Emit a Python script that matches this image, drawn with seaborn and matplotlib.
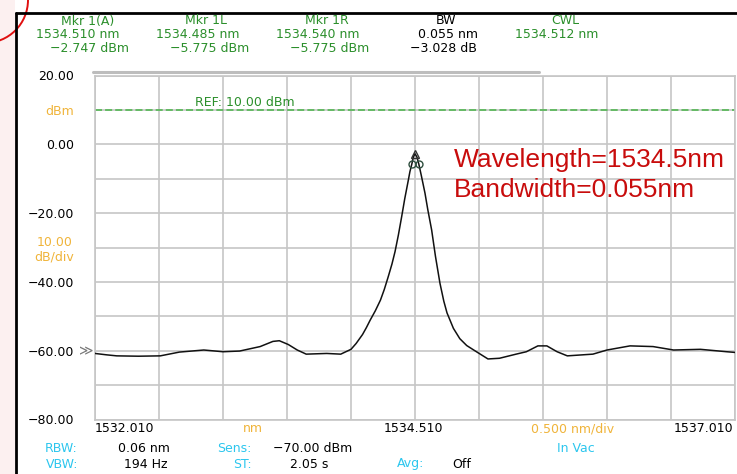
import numpy as np
import pandas as pd
import matplotlib
matplotlib.use("Agg")
import matplotlib.pyplot as plt
from matplotlib.patches import Ellipse, Rectangle
from matplotlib.lines import Line2D
import seaborn as sns

# ---------------- data ----------------
wavelength_nm = [
    1532.010, 1532.10, 1532.18, 1532.35, 1532.52, 1532.67, 1532.86, 1533.01,
    1533.14, 1533.30, 1533.40, 1533.45, 1533.52, 1533.59, 1533.66, 1533.82,
    1533.93, 1534.01, 1534.05, 1534.10, 1534.13, 1534.16, 1534.20, 1534.24,
    1534.27, 1534.30, 1534.33, 1534.354, 1534.38, 1534.406, 1534.43, 1534.458,
    1534.47, 1534.485, 1534.498, 1534.510, 1534.525, 1534.540, 1534.56,
    1534.588, 1534.61, 1534.64, 1534.67, 1534.705, 1534.735, 1534.76,
    1534.81, 1534.86, 1534.914, 1534.99, 1535.08, 1535.17, 1535.30,
    1535.38, 1535.47, 1535.54, 1535.62, 1535.70, 1535.90, 1536.01, 1536.19,
    1536.37, 1536.53, 1536.74, 1536.945, 1537.010,
]
power_dbm = [
    -60.8, -61.2, -61.5, -61.6, -61.5, -60.4, -59.8, -60.3,
    -60.1, -58.8, -57.3, -57.1, -58.2, -59.8, -61.0, -60.8,
    -61.0, -59.6, -57.9, -55.3, -53.3, -51.1, -48.4, -45.3,
    -42.2, -38.6, -34.8, -31.2, -26.4, -21.0, -15.8, -10.4,
    -8.0, -5.775, -3.6, -2.747, -3.7, -5.775, -9.2,
    -14.2, -19.0, -24.9, -32.6, -40.4, -45.6, -49.0,
    -53.5, -56.5, -58.5, -60.3, -62.4, -62.2, -61.0,
    -60.3, -58.6, -58.6, -60.3, -61.5, -61.0, -59.8, -58.6,
    -58.8, -59.8, -59.6, -60.3, -60.5,
]
marker_wl = [1534.510, 1534.485, 1534.540]
marker_db = [-2.747, -5.775, -5.775]
ref_level = 10.0

x_start, x_stop, x_div = 1532.010, 1537.010, 0.5
y_ticks = [20, 10, 0, -10, -20, -30, -40, -50, -60, -70, -80]
y_tick_labels = ["20.00", "dBm", "0.00", "", "\u221220.00", "10.00\ndB/div",
                 "\u221240.00", "", "\u221260.00", "", "\u221280.00"]
x_tick_labels = ["1532.010", "nm", "1534.510", "0.500 nm/div", "1537.010"]

header_titles = ["Mkr 1(A)", "Mkr 1L", "Mkr 1R", "BW", "CWL"]
header_row2 = ["1534.510 nm", "1534.485 nm", "1534.540 nm", "0.055 nm", "1534.512 nm"]
header_row3 = ["\u22122.747 dBm", "\u22125.775 dBm", "\u22125.775 dBm", "\u22123.028 dB"]

annot_lines = ["Wavelength=1534.5nm", "Bandwidth=0.055nm"]

# ---------------- style ----------------
W, H = 737, 474
sns.set_theme(style="white")
plt.rcParams["font.family"] = ["DejaVu Sans"]

GREEN = "#2b8f2b"
ORANGE = "#f0b43a"
CYAN = "#2cc6ee"
GRID = "#c6c6c6"
RED = "#c80c0c"
FS = 9

fig = plt.figure(figsize=(W / 100, H / 100), dpi=100)
fig.patch.set_facecolor("white")

# background decorations (slide remnants)
fig.patches.append(Rectangle((0, 0), 15 / W, 1, transform=fig.transFigure,
                             facecolor="#fcf0f0", edgecolor="none", zorder=0))
fig.patches.append(Ellipse((-15 / W, 1.0), 2 * 43 / W, 2 * 43 / H,
                           transform=fig.transFigure, fill=False,
                           edgecolor="#e01010", lw=1.4, zorder=1))
# black frame
fig.lines.append(Line2D([16 / W, 16 / W], [0, 1 - 13 / H], transform=fig.transFigure,
                        color="black", lw=2.0))
fig.lines.append(Line2D([16 / W, 1], [1 - 13 / H, 1 - 13 / H], transform=fig.transFigure,
                        color="black", lw=2.0))
# gray bar above grid
fig.lines.append(Line2D([93 / W, 539 / W], [1 - 72 / H, 1 - 72 / H], transform=fig.transFigure,
                        color="#bdbdbd", lw=2.2))

ax = fig.add_axes([95 / W, (H - 419.5) / H, 640 / W, 344 / H])
ax.set_facecolor("white")

df = pd.DataFrame({"wl": wavelength_nm, "p": power_dbm})
sns.lineplot(data=df, x="wl", y="p", color="#111111", lw=1.1, ax=ax, zorder=3)

ax.plot(marker_wl[:1], marker_db[:1], marker="^", ms=6, mfc="none", mec="#333333",
        mew=1.0, ls="none", zorder=4)
ax.plot(marker_wl[1:], marker_db[1:], marker="o", ms=5, mfc="none", mec="#2f4f3f",
        mew=1.0, ls="none", zorder=4)

ax.axhline(ref_level, color="#5cb85c", lw=1.3, ls=(0, (3.9, 1.7)), zorder=2)

ax.set_xlim(x_start, x_stop)
ax.set_ylim(-80, 20)
ax.set_xticks([x_start + i * x_div for i in range(11)])
ax.set_xticklabels([])
ax.set_yticks(y_ticks)
ax.set_yticklabels(y_tick_labels)
ax.tick_params(axis="both", length=0)
ax.tick_params(axis="y", pad=15, labelsize=FS, labelcolor="black")
for lab, txt in zip(ax.get_yticklabels(), y_tick_labels):
    if txt in ("dBm", "10.00\ndB/div"):
        lab.set_color(ORANGE)
        lab.set_multialignment("center")
    lab.set_fontfamily("DejaVu Sans")
ax.grid(True, color=GRID, lw=1.2)
for sp in ax.spines.values():
    sp.set_visible(True)
    sp.set_color(GRID)
    sp.set_linewidth(1.2)
ax.set_xlabel("")
ax.set_ylabel("")

ax.annotate("\u226b", xy=(0, -60.3), xycoords=("axes fraction", "data"),
            xytext=(-1, 0), textcoords="offset points", ha="right", va="center",
            fontsize=10, color="#777777")
ax.text(1532.010 + (195 - 95) / 128.0, 10.3, "REF: 10.00 dBm", color=GREEN,
        fontsize=FS, ha="left", va="bottom")


def ftext(x, y, s, **kw):
    kw.setdefault("fontsize", FS)
    kw.setdefault("va", "center")
    fig.text(x / W, 1 - y / H, s, **kw)


# header
title_cx = [88, 206, 327, 446, 565]
row2_rx = [120, 239, 359, 478, 598]
row3_rx = [129, 249, 369, 477]
for i, t in enumerate(header_titles):
    col = "black" if t == "BW" else GREEN
    ftext(title_cx[i], 21, t, ha="center", color=col)
    ftext(row2_rx[i], 34.5, header_row2[i], ha="right", color=col)
    if i < len(header_row3):
        ftext(row3_rx[i], 49, header_row3[i], ha="right", color=col)

# x labels
ftext(95, 429, x_tick_labels[0], ha="left", color="black")
ftext(253, 429, x_tick_labels[1], ha="center", color=ORANGE)
ftext(413, 429, x_tick_labels[2], ha="center", color="black")
ftext(573, 429, x_tick_labels[3], ha="center", color=ORANGE)
ftext(733, 429, x_tick_labels[4], ha="right", color="black")

# bottom status
ftext(78, 449, "RBW:", ha="right", color=CYAN)
ftext(170, 449, "0.06 nm", ha="right", color="black")
ftext(252, 449, "Sens:", ha="right", color=CYAN)
ftext(273, 449, "\u221270.00 dBm", ha="left", color="black")
ftext(576, 449, "In Vac", ha="center", color=CYAN)
ftext(78, 464, "VBW:", ha="right", color=CYAN)
ftext(168, 464, "194 Hz", ha="right", color="black")
ftext(252, 464, "ST:", ha="right", color=CYAN)
ftext(290, 464, "2.05 s", ha="left", color="black")
ftext(397, 464, "Avg:", ha="left", color=CYAN)
ftext(452, 464, "Off", ha="left", color="black")

# red annotation
fig.text(454 / W, 1 - 167 / H, annot_lines[0], fontsize=19, color=RED,
         ha="left", va="baseline", family=["Liberation Sans", "DejaVu Sans"])
fig.text(454 / W, 1 - 197 / H, annot_lines[1], fontsize=19, color=RED,
         ha="left", va="baseline", family=["Liberation Sans", "DejaVu Sans"])

fig.savefig("out.png", dpi=100)
